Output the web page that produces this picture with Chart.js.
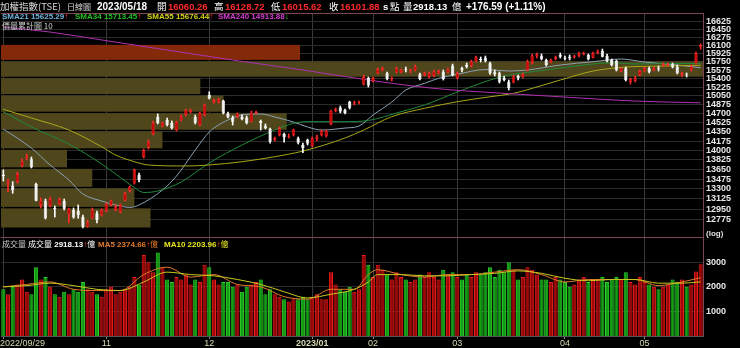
<!DOCTYPE html>
<html>
<head>
<meta charset="utf-8">
<script src="https://cdn.jsdelivr.net/npm/chart.js@4"></script>
<style>
  body { margin: 0; background: #000; }
  #wrap { position: relative; width: 740px; height: 348px; background: #000; overflow: hidden;
          font-family: "Liberation Sans", "Noto Sans CJK TC", sans-serif; }
  #chart { position: absolute; left: 0; top: 0; }
  .t { position: absolute; white-space: nowrap; line-height: 1; }
  .h1 { top: 2px; font-size: 9.5px; font-weight: bold; }
  .h2 { top: 13px; font-size: 8px; font-weight: bold; }
  .cj { font-family: "Noto Sans CJK TC", sans-serif; font-weight: normal; }
  .up { color: #ff2a2a; }
  .dn { color: #22cc22; }
</style>
</head>
<body>
<div id="wrap">
  <canvas id="chart" width="740" height="348"></canvas>

  <span class="t h1 cj" style="left:0;color:#d8d8d8;">加權指數(TSE)</span>
  <span class="t h1 cj" style="left:67px;top:3px;font-size:8px;color:#d8d8d8;">日線圖</span>
  <span class="t h1" style="left:97px;font-size:10px;color:#fff;">2023/05/18</span>
  <span class="t h1 cj" style="left:157px;color:#fff;">開</span>
  <span class="t h1 up" style="left:168px;">16060.26</span>
  <span class="t h1 cj" style="left:214px;color:#fff;">高</span>
  <span class="t h1 up" style="left:225px;">16128.72</span>
  <span class="t h1 cj" style="left:271px;color:#fff;">低</span>
  <span class="t h1 up" style="left:282px;">16015.62</span>
  <span class="t h1 cj" style="left:329px;color:#fff;">收</span>
  <span class="t h1 up" style="left:340px;">16101.88</span>
  <span class="t h1" style="left:383px;color:#fff;">s</span>
  <span class="t h1 cj" style="left:390px;color:#fff;">點</span>
  <span class="t h1 cj" style="left:403px;color:#fff;">量</span>
  <span class="t h1" style="left:413px;color:#fff;">2918.13</span>
  <span class="t h1 cj" style="left:452px;color:#fff;">億</span>
  <span class="t h1" style="left:466px;font-size:10px;color:#fff;">+176.59 (+1.11%)</span>

  <span class="t h2" style="left:2px;color:#6cb4dc;">SMA21 15625.29<span class="up">↑</span></span>
  <span class="t h2" style="left:75px;color:#22c022;">SMA34 15713.45<span class="up">↑</span></span>
  <span class="t h2" style="left:147px;color:#d4d41a;">SMA55 15676.44<span class="up">↑</span></span>
  <span class="t h2" style="left:218px;color:#d23cd2;">SMA240 14913.88<span class="dn">↓</span></span>
  <span class="t h2 cj" style="left:2px;top:22px;color:#d0d0d0;">價量累計圖 10</span>

  <span class="t h2 cj" style="left:2px;top:240px;color:#c8c8c8;">成交量</span>
  <span class="t h2" style="left:28px;top:240px;color:#fff;"><span class="cj">成交量</span> 2918.13<span class="up">↑</span><span class="cj">億</span></span>
  <span class="t h2" style="left:98px;top:240px;color:#e07a2a;">MA5 2374.66<span class="up">↑</span><span class="cj">億</span></span>
  <span class="t h2" style="left:164px;top:240px;color:#e6e61e;">MA10 2203.96<span class="up">↑</span><span class="cj">億</span></span>
  <span class="t h2" style="left:706px;top:230px;color:#e0e0e0;">(log)</span>
  <span class="t" id="firstTick" style="left:0;top:339px;font-size:9px;color:#d8d8b0;"></span>
</div>

<script>
// trading days shown on the chart
const months = ['2022/09', '2022/10', '2022/11', '2022/12', '2023/01', '2023/02', '2023/03', '2023/04', '2023/05'];
const monthDays = [
  [29, 30],
  [3, 4, 5, 6, 7, 11, 12, 13, 14, 17, 18, 19, 20, 21, 24, 25, 26, 27, 28, 31],
  [1, 2, 3, 4, 7, 8, 9, 10, 11, 14, 15, 16, 17, 18, 21, 22, 23, 24, 25, 28, 29, 30],
  [1, 2, 5, 6, 7, 8, 9, 12, 13, 14, 15, 16, 19, 20, 21, 22, 23, 26, 27, 28, 29, 30],
  [3, 4, 5, 6, 9, 10, 11, 12, 13, 16, 17, 30, 31],
  [1, 2, 3, 6, 7, 8, 9, 10, 13, 14, 15, 16, 17, 20, 21, 22, 23, 24],
  [1, 2, 3, 6, 7, 8, 9, 10, 13, 14, 15, 16, 17, 20, 21, 22, 23, 24, 27, 28, 29, 30, 31],
  [6, 7, 10, 11, 12, 13, 14, 17, 18, 19, 20, 21, 24, 25, 26, 27, 28],
  [2, 3, 4, 5, 8, 9, 10, 11, 12, 15, 16, 17, 18]
];

// x axis labels
const tickIdx = [0, 22, 44, 66, 79, 97, 120, 137];
const tickText = ['2022/09/29', '11', '12', '2023/01', '02', '03', '04', '05'];

// price axis labels
const priceTicks = [16625, 16450, 16275, 16100, 15925, 15750, 15575, 15400, 15225, 15050, 14875,
  14700, 14525, 14350, 14175, 14000, 13825, 13650, 13475, 13300, 13125, 12950, 12775];
const volTicks = [1000, 2000, 3000];

// daily OHLC
const open = [13555, 13412, 13357, 13430, 13718, 13853, 13835, 13388, 13021, 13095,
  13004, 12974, 13038, 13095, 12865, 12934, 12917, 12819, 12651, 12792,
  12877, 12848, 12922, 13021, 12934, 12905, 13095, 13270, 13400, 13549,
  13877, 14062, 14308, 14636, 14461, 14577, 14519, 14384, 14577, 14675,
  14739, 14636, 14480, 14675, 15068, 14929, 14935, 14948, 14708, 14623,
  14642, 14642, 14623, 14545, 14714, 14558, 14467, 14403, 14194, 14289,
  14308, 14257, 14289, 14226, 14100, 14194, 14081, 14213, 14289, 14270,
  14500, 14759, 14820, 14772, 14929, 14899, 14920, 15290, 15413, 15352,
  15510, 15578, 15510, 15386, 15530, 15537, 15600, 15550, 15578, 15489,
  15475, 15441, 15461, 15510, 15544, 15530, 15667, 15407, 15613, 15681,
  15667, 15751, 15807, 15835, 15716, 15530, 15510, 15420, 15338, 15325,
  15455, 15434, 15578, 15730, 15864, 15877, 15786, 15737, 15807, 15892,
  15835, 15856, 15856, 15878, 15913, 15892, 15835, 15927, 15976, 15877,
  15786, 15765, 15557, 15613, 15338, 15352, 15475, 15557, 15613, 15578,
  15620, 15674, 15681, 15695, 15646, 15482, 15485, 15578, 15716, 16060.26];
const high = [13640, 13478, 13430, 13604, 13840, 13932, 13877, 13406, 13142, 13124,
  13159, 13004, 13142, 13124, 12969, 12969, 13021, 12848, 12763, 12969,
  12917, 12951, 13056, 13107, 13021, 13038, 13247, 13352, 13658, 13585,
  14025, 14194, 14558, 14694, 14538, 14616, 14558, 14558, 14675, 14792,
  14792, 14675, 14733, 14890, 15135, 14988, 15001, 14968, 14733, 14655,
  14714, 14675, 14655, 14753, 14753, 14577, 14500, 14422, 14251, 14442,
  14327, 14308, 14403, 14251, 14137, 14213, 14251, 14289, 14384, 14384,
  14772, 14811, 14850, 14792, 14948, 14948, 14948, 15475, 15434, 15434,
  15619, 15640, 15537, 15434, 15640, 15599, 15640, 15599, 15681, 15517,
  15537, 15537, 15578, 15578, 15578, 15619, 15702, 15537, 15640, 15723,
  15786, 15871, 15850, 15871, 15744, 15578, 15537, 15455, 15372, 15475,
  15475, 15517, 15786, 15913, 15934, 15913, 15807, 15807, 15871, 15934,
  15871, 15892, 15892, 15955, 15955, 15913, 15955, 15997, 16018, 15913,
  15807, 15786, 15619, 15640, 15413, 15455, 15578, 15640, 15640, 15640,
  15660, 15723, 15723, 15723, 15681, 15537, 15517, 15681, 15955, 16128.72];
const low = [13442, 13252, 13224, 13406, 13695, 13822, 13676, 13090, 12969, 12780,
  12986, 12814, 13021, 12934, 12712, 12792, 12792, 12629, 12642, 12780,
  12712, 12831, 12900, 13004, 12917, 12883, 13090, 13247, 13388, 13424,
  13859, 14025, 14289, 14500, 14442, 14461, 14403, 14365, 14558, 14655,
  14714, 14500, 14461, 14655, 14988, 14909, 14909, 14694, 14616, 14480,
  14616, 14577, 14500, 14538, 14694, 14384, 14403, 14137, 14175, 14270,
  14156, 14232, 14270, 14119, 13956, 14100, 14062, 14175, 14270, 14251,
  14480, 14733, 14714, 14694, 14792, 14870, 14890, 15270, 15229, 15331,
  15496, 15557, 15372, 15352, 15517, 15517, 15537, 15517, 15557, 15372,
  15455, 15413, 15434, 15496, 15372, 15517, 15455, 15393, 15537, 15619,
  15640, 15744, 15744, 15744, 15485, 15455, 15311, 15352, 15169, 15311,
  15372, 15413, 15557, 15702, 15828, 15786, 15660, 15723, 15786, 15828,
  15786, 15786, 15828, 15850, 15892, 15786, 15828, 15913, 15850, 15744,
  15660, 15557, 15537, 15352, 15290, 15331, 15455, 15537, 15517, 15557,
  15557, 15654, 15660, 15619, 15496, 15434, 15434, 15557, 15702, 16015.62];
const close = [13531, 13447, 13277, 13567, 13791, 13882, 13689, 13095, 13095, 12792,
  13124, 12946, 13119, 12957, 12951, 12809, 12843, 12651, 12718, 12934,
  12763, 12934, 13038, 13090, 12980, 13021, 13224, 13340, 13640, 13460,
  14006, 14156, 14519, 14519, 14519, 14480, 14422, 14538, 14636, 14772,
  14772, 14525, 14714, 14870, 15001, 14968, 14982, 14708, 14630, 14545,
  14694, 14590, 14513, 14720, 14733, 14513, 14416, 14162, 14226, 14416,
  14245, 14276, 14384, 14143, 14038, 14131, 14226, 14251, 14365, 14371,
  14758, 14792, 14741, 14714, 14817, 14925, 14935, 15433, 15260, 15413,
  15592, 15613, 15386, 15407, 15613, 15578, 15585, 15570, 15646, 15393,
  15510, 15510, 15544, 15557, 15386, 15578, 15475, 15510, 15578, 15646,
  15751, 15842, 15786, 15765, 15510, 15489, 15338, 15372, 15204, 15441,
  15407, 15489, 15751, 15877, 15906, 15807, 15681, 15786, 15842, 15856,
  15815, 15821, 15871, 15913, 15927, 15800, 15927, 15962, 15856, 15765,
  15681, 15578, 15613, 15372, 15393, 15420, 15557, 15613, 15544, 15613,
  15605, 15702, 15702, 15633, 15510, 15510, 15468, 15646, 15925, 16101.88];

// daily volume (億)
const volume = [1900, 1700, 2000, 2100, 2300, 1800, 1700, 2800, 2300, 2400,
  2000, 1700, 1600, 1800, 1700, 1900, 1800, 2200, 1900, 1800,
  1700, 1600, 1900, 2000, 1700, 1800, 1900, 2000, 2400, 2100,
  3300, 3000, 2600, 3400, 2800, 2300, 2200, 2400, 2300, 2500,
  2100, 2300, 2200, 2900, 2800, 2300, 2100, 2200, 2200, 2000,
  2100, 1800, 2000, 2100, 2200, 2300, 1700, 1900, 1700, 1600,
  1500, 1400, 1500, 1500, 1600, 1500, 1600, 1700, 1500, 1500,
  2600, 2100, 1900, 1800, 2000, 1800, 1900, 3300, 2900, 2400,
  2900, 2700, 2500, 2300, 2600, 2400, 2300, 2200, 2300, 2500,
  2400, 2600, 2400, 2300, 2700, 2500, 2600, 2400, 2300, 2500,
  2400, 2600, 2500, 2600, 2800, 2400, 2700, 2600, 3000, 2700,
  2300, 2400, 2800, 2700, 2500, 2300, 2300, 2200, 2400, 2300,
  2200, 2000, 2100, 2300, 2400, 2200, 2300, 2300, 2400, 2200,
  2300, 2400, 2300, 2600, 2200, 2100, 2400, 2200, 2100, 2000,
  1900, 2000, 2100, 2300, 2200, 2300, 2000, 2100, 2630, 2918.13];

// moving averages read at sample days: [day index], [value]
const sma21Idx = [0, 6, 10, 14, 17, 21, 24, 27, 29, 34, 37, 41, 44, 48, 51, 55, 58, 62, 65, 68, 73, 76,
  79, 83, 86, 90, 93, 97, 103, 108, 112, 119, 126, 132, 137, 144, 149];
const sma21Val = [14403, 14043, 13731, 13460, 13211, 13090, 13021, 12977, 13021, 13282, 13531, 14006,
  14346, 14577, 14675, 14694, 14636, 14538, 14442, 14384, 14422, 14461, 14675, 14929, 15169, 15304,
  15407, 15489, 15588, 15557, 15578, 15681, 15751, 15807, 15744, 15681, 15625.29];
const sma34Idx = [0, 6, 14, 21, 24, 28, 30, 33, 38, 44, 51, 58, 62, 65, 73, 78, 85, 90, 97, 104, 108,
  113, 117, 124, 130, 135, 142, 149];
const sma34Val = [14739, 14442, 14119, 13749, 13567, 13326, 13238, 13264, 13424, 13767, 14100, 14384,
  14513, 14545, 14545, 14568, 14739, 14870, 15129, 15372, 15475, 15543, 15592, 15681, 15729, 15702,
  15712, 15713.45];
const sma55Idx = [0, 6, 14, 21, 24, 28, 31, 39, 44, 51, 58, 64, 73, 77, 83, 90, 97, 104, 109, 113,
  119, 126, 130, 134, 141, 149];
const sma55Val = [14785, 14616, 14384, 14068, 13914, 13791, 13731, 13713, 13731, 13791, 13883, 13987,
  14232, 14384, 14642, 14805, 14935, 15034, 15102, 15203, 15372, 15557, 15613, 15646, 15660, 15676.44];
const sma240Idx = [0, 10, 21, 35, 49, 64, 78, 92, 107, 121, 135, 149];
const sma240Val = [16494, 16384, 16213, 15997, 15786, 15578, 15372, 15203, 15102, 15022, 14948, 14913.88];

const volMaIdx = [0, 5, 10, 15, 20, 25, 30, 35, 40, 45, 50, 55, 60, 65, 70, 75, 78, 80, 85, 90, 95,
  100, 105, 110, 115, 120, 125, 130, 135, 140, 145, 149];
const volMa5Val = [2000, 2100, 2200, 1900, 1850, 1850, 2500, 2800, 2400, 2500, 2100, 2000, 1600, 1500,
  1900, 1900, 2500, 2700, 2500, 2400, 2500, 2500, 2600, 2700, 2500, 2200, 2300, 2300, 2300, 2050,
  2200, 2374.66];
const volMa10Val = [2000, 2050, 2150, 2050, 1900, 1850, 2200, 2600, 2500, 2450, 2300, 2100, 1800, 1550,
  1700, 1900, 2200, 2500, 2500, 2450, 2450, 2500, 2550, 2650, 2550, 2350, 2250, 2300, 2300, 2150,
  2150, 2203.96];

// volume at price, 10 equal price bands from lowest low to highest high (億)
const profileVol = [21300, 19000, 13000, 9400, 23000, 40700, 31700, 28400, 100000, 42600];

// ---- build datasets ----
const dates = [];
months.forEach((m, k) => monthDays[k].forEach(d => dates.push(m + '/' + String(d).padStart(2, '0'))));
document.getElementById('firstTick').textContent = tickText[0];

const isUp = close.map((c, i) => c > open[i]);
const candleFill = isUp.map(u => u ? '#c80c0c' : '#f2f2f2');
const candleEdge = isUp.map(u => u ? '#ff2a2a' : '#ffffff');
const volFill = isUp.map(u => u ? '#a00808' : '#14a014');
const volEdge = isUp.map(u => u ? '#f01e1e' : '#2ed02e');

const lowest = Math.min(...low);
const highest = Math.max(...high);
const bandSize = (highest - lowest) / profileVol.length;
const lastBand = Math.min(profileVol.length - 1, Math.floor((close[close.length - 1] - lowest) / bandSize));

function pts(idx, val) {
  return idx.map((i, k) => ({ x: dates[i], y: val[k] }));
}
function maLine(data, color, axis) {
  return {
    type: 'line', data: pts(data[0], data[1]), yAxisID: axis, borderColor: color, borderWidth: 1,
    pointRadius: 0, cubicInterpolationMode: 'monotone', order: 10
  };
}

// price-volume profile: horizontal bands behind the candles, placed with the y and xp scales
const profile = {
  id: 'profile',
  beforeDatasetsDraw(chart) {
    const { ctx, chartArea } = chart;
    const y = chart.scales.y;
    const xp = chart.scales.xp;
    ctx.save();
    profileVol.forEach((v, k) => {
      const top = y.getPixelForValue(lowest + bandSize * (k + 1));
      const bottom = y.getPixelForValue(lowest + bandSize * k);
      const right = xp.getPixelForValue(v);
      ctx.fillStyle = k === lastBand ? '#842a08' : '#4f461c';
      ctx.fillRect(chartArea.left, top + 1, right - chartArea.left, bottom - top - 1.5);
    });
    ctx.restore();
  }
};

const frame = {
  id: 'frame',
  afterDatasetsDraw(chart) {
    const { ctx, chartArea } = chart;
    const y = chart.scales.y;
    ctx.save();
    ctx.strokeStyle = '#7a4656';
    ctx.lineWidth = 1;
    ctx.beginPath();
    ctx.moveTo(chartArea.left, chartArea.top + 0.5);
    ctx.lineTo(chartArea.right, chartArea.top + 0.5);
    ctx.moveTo(chartArea.left, Math.round(y.bottom) + 0.5);
    ctx.lineTo(chartArea.right, Math.round(y.bottom) + 0.5);
    ctx.stroke();
    ctx.restore();
  }
};

const tickFont = { family: 'Liberation Sans', size: 9, weight: 'bold', lineHeight: 1 };

new Chart(document.getElementById('chart'), {
  data: {
    labels: dates,
    datasets: [
      maLine([sma240Idx, sma240Val], '#b030b0', 'y'),
      maLine([sma55Idx, sma55Val], '#a8a818', 'y'),
      maLine([sma34Idx, sma34Val], '#1f8a3a', 'y'),
      maLine([sma21Idx, sma21Val], '#8aa2b4', 'y'),
      {
        type: 'bar', yAxisID: 'y', data: low.map((l, i) => [l, high[i]]),
        backgroundColor: candleEdge, barThickness: 1, barPercentage: 1, grouped: false, order: 3
      },
      {
        type: 'bar', yAxisID: 'y', data: open.map((o, i) => [o, close[i]]),
        backgroundColor: candleFill, borderColor: candleEdge, borderWidth: 0.6, borderSkipped: false,
        barPercentage: 0.72, categoryPercentage: 1, grouped: false, order: 2
      },
      {
        type: 'bar', yAxisID: 'yv', data: volume,
        backgroundColor: volFill, borderColor: volEdge, borderWidth: 1, borderSkipped: 'bottom',
        barPercentage: 0.88, categoryPercentage: 1, grouped: false, order: 20
      },
      maLine([volMaIdx, volMa10Val], '#c8c820', 'yv'),
      maLine([volMaIdx, volMa5Val], '#e07a2a', 'yv')
    ]
  },
  options: {
    responsive: false,
    animation: false,
    devicePixelRatio: 1,
    layout: { padding: { top: 13, left: 1, right: 0, bottom: 0 } },
    plugins: { legend: { display: false }, tooltip: { enabled: false } },
    scales: {
      x: {
        type: 'category', offset: true,
        grid: { offset: false, color: '#3a3a3a', tickColor: '#888', tickLength: 3 },
        border: { color: '#555' },
        afterBuildTicks: s => { s.ticks = tickIdx.map(v => ({ value: v })); },
        afterFit: s => { s.height = 12; s.paddingLeft = 0; s.paddingRight = 0; },
        ticks: {
          autoSkip: false, maxRotation: 0, padding: 0, color: '#d8d8b0',
          font: c => ({ family: 'Liberation Sans', size: 9, lineHeight: 1, weight: c.index === 3 ? 'bold' : 'normal' }),
          callback: (v, i) => (i === 0 ? '' : tickText[i])
        }
      },
      xp: { type: 'linear', axis: 'x', display: false, min: 0, max: Math.max(...profileVol) },
      y: {
        type: 'logarithmic', position: 'right', stack: 'panel', stackWeight: 224, offset: false,
        min: 12478, max: 16804,
        grid: { offset: false, color: '#2c2c2c', drawTicks: false },
        border: { color: '#7a4656' },
        afterBuildTicks: s => { s.ticks = priceTicks.map(v => ({ value: v })); },
        afterFit: s => { s.width = 37; },
        ticks: { autoSkip: false, padding: 3, color: '#e8e8e8', font: tickFont, callback: v => String(v) }
      },
      yv: {
        type: 'linear', position: 'right', stack: 'panel', stackWeight: 99, offset: false,
        min: 0, max: 4030,
        grid: { offset: false, color: '#2c2c2c', drawTicks: false },
        border: { color: '#7a4656' },
        afterBuildTicks: s => { s.ticks = volTicks.map(v => ({ value: v })); },
        afterFit: s => { s.width = 37; },
        ticks: { autoSkip: false, padding: 3, color: '#e8e8e8', font: tickFont, callback: v => String(v) }
      }
    }
  },
  plugins: [profile, frame]
});
</script>
</body>
</html>
